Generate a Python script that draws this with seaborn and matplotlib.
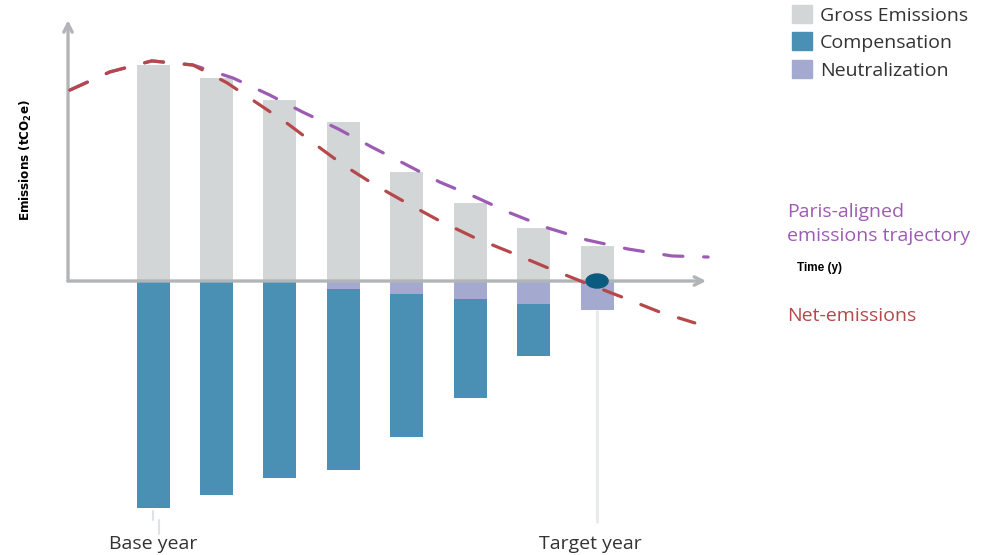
import numpy as np
import pandas as pd
import seaborn as sns
import matplotlib
matplotlib.use("Agg")
import matplotlib.pyplot as plt
from matplotlib.patches import Patch, Ellipse

# ---- data (tCO2e, arbitrary units) ----
periods = ["P1", "P2", "P3", "P4", "P5", "P6", "P7", "P8"]
gross = [100, 94, 84, 73.6, 50.5, 36, 24.5, 16.2]
neutralization = [0, 0, 0, 3.7, 6.0, 8.3, 10.6, 13.4]
compensation = [105, 99, 91, 84, 66, 46, 24, 0]

# net-emissions trajectory (time index, value)
net_t = [-1.31, -0.68, -0.02, 0.63, 1.17, 1.64, 2.11, 2.55, 3.0, 3.5,
         4.0, 4.52, 5.08, 5.66, 6.23, 6.78, 7.39, 7.99, 8.54]
net_v = [88.4, 96.8, 101.9, 100, 91.7, 82.4, 73.1, 63.4, 53.7, 44.4,
         36.1, 27.8, 19.9, 13.0, 6.0, -0.5, -7.4, -14.4, -19.4]

# Paris-aligned trajectory (time index, value)
paris_t = [-1.31, -0.68, -0.02, 0.63, 1.26, 1.84, 2.36, 2.92, 3.45, 3.97,
           4.52, 5.08, 5.63, 6.23, 6.84, 7.49, 8.18, 8.75]
paris_v = [88.4, 96.8, 101.9, 100, 94, 86.1, 78.2, 70.4, 62, 54.2,
           45.8, 38.9, 31.5, 24.5, 19, 14.8, 11.6, 11.1]

base_idx, target_idx = 0, 7

C_GROSS = "#d3d6d7"
C_COMP = "#4a8fb4"
C_NEUT = "#a3a9cf"
C_NET = "#b5484b"
C_PARIS = "#9d5cb3"
C_AXIS = "#b2b5b7"
C_TEXT = "#333333"

sns.set_theme(style="white")
plt.rcParams["font.family"] = ["Open Sans", "DejaVu Sans"]

fig = plt.figure(figsize=(9.86, 5.55), dpi=100)
ax = fig.add_axes([0, 0, 1, 1])

df = pd.DataFrame({
    "period": periods,
    "gross": gross,
    "below_total": [-(n + c) for n, c in zip(neutralization, compensation)],
    "neutral": [-n for n in neutralization],
})

bw = 0.52
for col, colr in [("gross", C_GROSS), ("below_total", C_COMP), ("neutral", C_NEUT)]:
    sns.barplot(data=df, x="period", y=col, color=colr, width=bw,
                saturation=1, linewidth=0, ax=ax, zorder=2)

# trajectories
paris_df = pd.DataFrame({"t": paris_t, "v": paris_v})
net_df = pd.DataFrame({"t": net_t, "v": net_v})
sns.lineplot(data=paris_df, x="t", y="v", color=C_PARIS, lw=2.3,
             ax=ax, zorder=4, sort=False)
paris_line = ax.lines[-1]
sns.lineplot(data=net_df, x="t", y="v", color=C_NET, lw=2.3,
             ax=ax, zorder=5, sort=False)
net_line = ax.lines[-1]
for ln in (paris_line, net_line):
    ln.set_linestyle((0, (6, 6.5)))
    ln.set_dash_capstyle("round")

ax.set_xlim(-2.412, 13.13)
ax.set_ylim(-126.85, 130.1)
ax.set_axis_off()

# guide lines for base and target year
ax.plot([target_idx, target_idx], [-neutralization[target_idx], -112],
        color="#e8eaec", lw=2.2, zorder=1, solid_capstyle="butt")
ax.plot([base_idx, base_idx], [-106.5, -110.5], color="#dfe2e4", lw=1.5, zorder=1)
ax.plot([base_idx + 0.1, base_idx + 0.1], [-110.5, -117], color="#dfe2e4", lw=1.5, zorder=1)

# axes with arrow heads
x0 = -1.34
ax.annotate("", xy=(8.72, 0), xytext=(x0, 0),
            arrowprops=dict(arrowstyle="->,head_length=0.5,head_width=0.25",
                            color=C_AXIS, lw=2.4, shrinkA=0, shrinkB=0),
            zorder=3)
ax.annotate("", xy=(x0, 120.8), xytext=(x0, 0),
            arrowprops=dict(arrowstyle="->,head_length=0.5,head_width=0.25",
                            color=C_AXIS, lw=2.4, shrinkA=0, shrinkB=0),
            zorder=3)

# net-zero point at target year
ax.add_patch(Ellipse((target_idx, 0), 0.347, 6.5, color="#0b5a80", zorder=7))

# labels
ax.text(-2.0, 56, "Emissions (tCO$_\\mathregular{2}$e)", rotation=90,
        ha="center", va="center", fontsize=9.5, fontweight="bold",
        family="DejaVu Sans", fontstretch="condensed", color="black")
ax.text(10.15, 6, "Time (y)", ha="left", va="center", fontsize=8.5,
        fontweight="bold", family=["Liberation Sans", "DejaVu Sans"], color="black")
ax.text(10.0, 32.0, "Paris-aligned", ha="left", va="center",
        fontsize=14, color=C_PARIS)
ax.text(10.0, 20.8, "emissions trajectory", ha="left", va="center",
        fontsize=14, color=C_PARIS)
ax.text(10.0, -16.0, "Net-emissions", ha="left", va="center",
        fontsize=14, color=C_NET)
ax.text(base_idx, -121.8, "Base year", ha="center", va="center",
        fontsize=14, color=C_TEXT)
ax.text(target_idx - 0.1, -121.8, "Target year", ha="center", va="center",
        fontsize=14, color=C_TEXT)

handles = [Patch(color=C_GROSS, label="Gross Emissions"),
           Patch(color=C_COMP, label="Compensation"),
           Patch(color=C_NEUT, label="Neutralization")]
fig.legend(handles=handles, loc="upper left", bbox_to_anchor=(0.791, 1.012),
           frameon=False, fontsize=14, handlelength=1.05, handleheight=1.05,
           handletextpad=0.4, labelspacing=0.4, borderaxespad=0.2,
           labelcolor=C_TEXT)

fig.savefig("out.png", dpi=100)
